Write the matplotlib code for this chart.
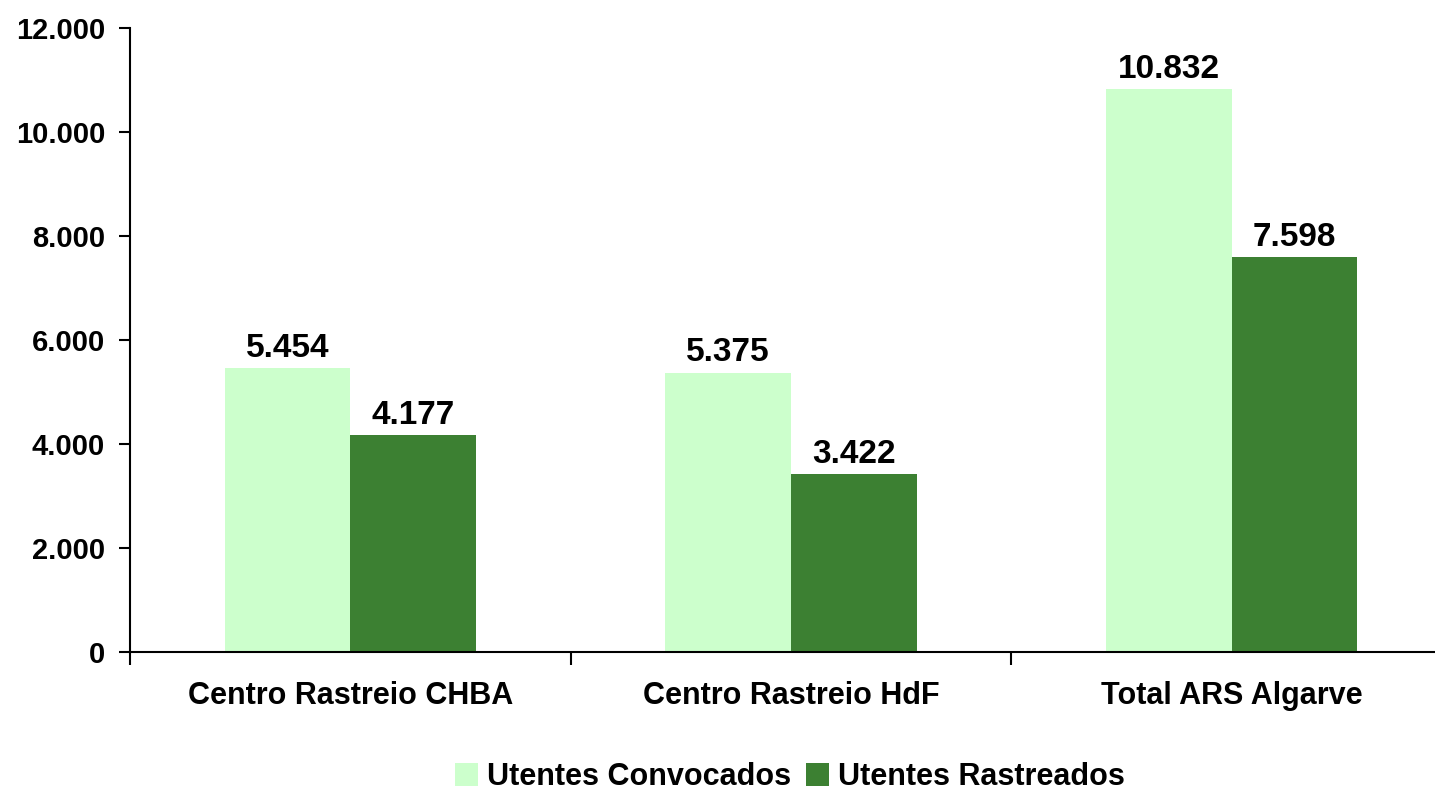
import numpy as np
import matplotlib.pyplot as plt

categorias = ['Centro Rastreio CHBA', 'Centro Rastreio HdF', 'Total ARS Algarve']
convocados = [5454, 5375, 10832]
rastreados = [4177, 3422, 7598]
series = ['Utentes Convocados', 'Utentes Rastreados']
yticks = [0, 2000, 4000, 6000, 8000, 10000, 12000]

cor_claro = '#CCFFCC'
cor_escuro = '#3C8032'

plt.rcParams['font.family'] = ['Liberation Sans', 'DejaVu Sans']
plt.rcParams['font.weight'] = 'bold'

W, H = 1435, 791
fig = plt.figure(figsize=(W / 100, H / 100), dpi=100)
ax = fig.add_axes([130 / W, (H - 652) / H, (1452 - 130) / W, (652 - 28) / H])

x = np.arange(len(categorias))
w = 0.285
b1 = ax.bar(x - w / 2, convocados, w, color=cor_claro, label=series[0])
b2 = ax.bar(x + w / 2, rastreados, w, color=cor_escuro, label=series[1])

fmt = lambda v: f'{v:,.0f}'.replace(',', '.')
for bars, vals in [(b1, convocados), (b2, rastreados)]:
    for r, v in zip(bars, vals):
        ax.annotate(fmt(v), (r.get_x() + r.get_width() / 2, v),
                    xytext=(0, 3), textcoords='offset points',
                    ha='center', va='bottom', fontsize=24, fontweight='bold')

ax.set_xlim(-0.5, 2.5)
ax.set_ylim(0, 12000)
ax.set_yticks(yticks)
ax.set_yticklabels([fmt(v) for v in yticks], fontsize=21, fontweight='bold')
ax.set_xticks([-0.5, 0.5, 1.5, 2.5])
ax.set_xticklabels([])
ax.set_xticks(x, minor=True)
ax.set_xticklabels(categorias, minor=True, fontsize=22, fontweight='bold')
ax.tick_params(axis='x', which='minor', length=0, pad=21)
ax.tick_params(axis='x', which='major', length=9, width=1.5, direction='out')
ax.tick_params(axis='y', length=8, width=1.5, direction='out', pad=10)

for s in ['top', 'right']:
    ax.spines[s].set_visible(False)
for s in ['left', 'bottom']:
    ax.spines[s].set_linewidth(1.5)

fig.legend(loc='center', bbox_to_anchor=(790 / W, (H - 777) / H), ncol=2, frameon=False,
           prop={'size': 22, 'weight': 'bold'}, handlelength=0.75, handleheight=0.75,
           handletextpad=0.3, columnspacing=0.5)

fig.savefig('out.png', dpi=100)
